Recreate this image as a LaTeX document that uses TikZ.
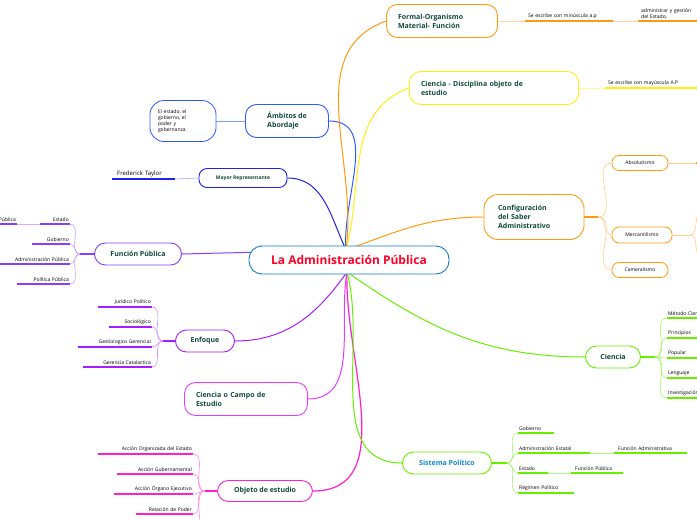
\documentclass[tikz,border=0pt]{standalone}
\usepackage{fontspec}
\setmainfont{Open Sans}
\usetikzlibrary{positioning}
\definecolor{txtgreen}{HTML}{0F4A3A}
\definecolor{cblue}{HTML}{2E5BFF}
\definecolor{cdblue}{HTML}{2222E6}
\definecolor{cpurple}{HTML}{8A3CFF}
\definecolor{cviolet}{HTML}{A51EFF}
\definecolor{cpink}{HTML}{E23CFF}
\definecolor{cmag}{HTML}{FF1ED2}
\definecolor{corange}{HTML}{FF9A10}
\definecolor{cyellow}{HTML}{FFEE10}
\definecolor{cgreen}{HTML}{66F000}
\tikzset{
  topic/.style={draw, rounded corners=11pt, fill=white, line width=0.9pt, text=txtgreen, font=\fontsize{7}{9}\selectfont\bfseries, align=left, inner xsep=9pt, inner ysep=4pt},
  small/.style={draw, rounded corners=7pt, fill=white, line width=0.8pt, font=\fontsize{5}{6}\selectfont, inner sep=3pt},
  leafL/.style={anchor=south east, align=right, inner xsep=1pt, inner ysep=2pt, font=\fontsize{5}{6}\selectfont},
  leafR/.style={anchor=south west, align=left, inner xsep=1pt, inner ysep=2pt, font=\fontsize{5}{6}\selectfont},
  uline/.style={line width=1.3pt},
  twig/.style={line width=0.6pt}
}
\begin{document}
\begin{tikzpicture}[x=1pt, y=-1pt]
\useasboundingbox (0,0) rectangle (697,520);
\coordinate (hub) at (346,250);
\coordinate (hubs) at (347,272);

% left side
\node (amb) [topic, draw=cblue, minimum width=83pt, minimum height=33pt] at (287,121) {Ámbitos de\\Abordaje};
\node (ambc) [small, draw=cblue, rounded corners=14pt, text width=50pt, minimum height=41pt, align=left, inner xsep=8pt] at (183,121) {El estado, el\\gobierno, el\\poder y\\gobernanza};
\draw[cblue!60, twig] (ambc) -- (amb);

\node (may) [topic, draw=cdblue, rounded corners=8pt, font=\fontsize{5}{6}\selectfont\bfseries, minimum width=88pt, minimum height=19pt, align=center] at (243,178) {Mayor Representante};
\node (ft) [leafR, text width=61pt, font=\fontsize{6}{7}\selectfont] at (112,179) {\hspace{4pt}Frederick Taylor};
\draw[cdblue, uline] (ft.south west) -- (ft.south east);
\draw[cdblue!40, twig] (ft.south east) -- (may.west);

\node (fun) [topic, draw=cpurple, minimum width=87pt, minimum height=22pt, align=center] at (138,254) {Función Pública};
\coordinate (funh) at (80,254);
\node (fun1) [leafL, text width=28pt] at (70,224) {Estado};
\node (fun1a) [leafL, text width=40pt] at (17,224) {Función Pública};
\node (fun2) [leafL, text width=36pt] at (70,244) {Gobierno};
\node (fun3) [leafL, text width=70pt] at (70,264) {Administración Pública};
\node (fun4) [leafL, text width=51pt] at (70,284) {Política Pública};
\foreach \n in {fun1,fun1a,fun2,fun3,fun4} \draw[cpurple, uline] (\n.south west) -- (\n.south east);
\draw[cpurple!40, twig] (fun1.south west) -- (fun1a.south east);
\draw[cpurple, uline] (fun.west) -- (funh);
\foreach \n in {fun1,fun2,fun3,fun4} \draw[cpurple!50, twig] (funh) to[out=180, in=0] (\n.south east);

\node (enf) [topic, draw=cviolet, minimum width=59pt, minimum height=22pt, align=center] at (205,341) {Enfoque};
\coordinate (enfh) at (163,341);
\node (enf1) [leafL, text width=52pt] at (152,307) {Jurídico Político};
\node (enf2) [leafL, text width=41pt] at (152,327) {Sociológico};
\node (enf3) [leafL, text width=72pt] at (152,347) {Gestiologico Gerencial};
\node (enf4) [leafL, text width=67pt] at (152,367) {Gerencia Catalactica};
\draw[cviolet, uline] (enf.west) -- (enfh);
\foreach \n in {enf1,enf2,enf3,enf4} {
  \draw[cviolet, uline] (\n.south west) -- (\n.south east);
  \draw[cviolet!50, twig] (enfh) to[out=180, in=0] (\n.south east);
}

\node (cam) [topic, draw=cpink, minimum width=123pt, minimum height=33pt, text width=100pt] at (246,399) {Ciencia o Campo de\\Estudio};

\node (obj) [topic, draw=cmag, minimum width=95pt, minimum height=21pt, align=center] at (265,491) {Objeto de estudio};
\coordinate (objh) at (205,491);
\node (obj1) [leafL, text width=93pt] at (193,454) {Acción Organizada del Estado};
\node (obj2) [leafL, text width=74pt] at (193,474) {Acción Gubernamental};
\node (obj3) [leafL, text width=77pt] at (193,494) {Acción Órgano Ejecutivo};
\node (obj4) [leafL, text width=55pt] at (193,514) {Relación de Poder};
\coordinate (obj5) at (193,530);
\draw[cmag, uline] (obj.west) -- (objh);
\foreach \n in {obj1,obj2,obj3,obj4} {
  \draw[cmag, uline] (\n.south west) -- (\n.south east);
  \draw[cmag!50, twig] (objh) to[out=180, in=0] (\n.south east);
}
\draw[cmag!50, twig] (objh) to[out=180, in=0] (obj5);

% right side
\node (for) [topic, draw=corange, minimum width=111pt, minimum height=33pt, text width=88pt] at (442,21) {Formal-Organismo\\Material- Función};
\node (for1) [leafR, text width=86pt] at (525,21) {\hspace{2pt}Se escribe con minúscula a.p};
\node (for2) [leafR, text width=70pt] at (638,21) {\hspace{2pt}administrar y gestión\\\hspace{2pt}del Estado.};
\draw[corange, uline] (for1.south west) -- (for1.south east);
\draw[corange, uline] (for2.south west) -- (for2.south east);
\draw[corange!40, twig] (for.east) -- (for1.south west);
\draw[corange!40, twig] (for1.south east) -- (for2.south west);

\node (dis) [topic, draw=cyellow, minimum width=169pt, minimum height=33pt, text width=146pt] at (494,88) {Ciencia - Disciplina objeto de\\estudio};
\node (dis1) [leafR, text width=92pt] at (605,88) {\hspace{2pt}Se escribe con mayúscula A.P};
\draw[cyellow, uline] (dis1.south west) -- (dis1.south east);
\draw[cyellow!40, twig] (dis.east) -- (dis1.south west);

\node (con) [topic, draw=corange, rounded corners=14pt, minimum width=100pt, minimum height=45pt, text width=72pt] at (534,217) {Configuración\\del Saber\\Administrativo};
\coordinate (conh) at (598,217);
\node (con1) [small, draw=corange, minimum width=56pt, minimum height=15pt] at (640,163) {Absolutismo};
\node (con2) [small, draw=corange, minimum width=60pt, minimum height=16pt] at (642,235) {Mercantilismo};
\node (con3) [small, draw=corange, minimum width=56pt, minimum height=15pt] at (640,270) {Cameralismo};
\coordinate (con1e) at (697,163);
\coordinate (con2h) at (690,235);
\draw[corange, uline] (con.east) -- (conh);
\foreach \n in {con1,con2,con3} \draw[corange!50, twig] (conh) to[out=0, in=180] (\n.west);
\draw[corange!50, twig] (con1.east) -- (con1e);
\draw[corange, uline] ([xshift=28pt]con1.east) -- (con1e);
\draw[corange!50, twig] (con2.east) -- (con2h);
\draw[corange!50, twig] (con2h) to[out=0, in=180] ++(12,-22);
\draw[corange!50, twig] (con2h) to[out=0, in=180] ++(12,22);

\node (cie) [topic, draw=cgreen, minimum width=55pt, minimum height=22pt, align=center] at (613,357) {Ciencia};
\coordinate (cieh) at (655,357);
\node (cie1) [leafR, text width=60pt] at (667,318) {Método Científico};
\node (cie2) [leafR, text width=60pt] at (667,338) {Principios};
\node (cie3) [leafR, text width=60pt] at (667,358) {Popular};
\node (cie4) [leafR, text width=60pt] at (667,378) {Lenguaje};
\node (cie5) [leafR, text width=60pt] at (667,398) {Investigación};
\draw[cgreen, uline] (cie.east) -- (cieh);
\foreach \n in {cie1,cie2,cie3,cie4,cie5} {
  \draw[cgreen, uline] (\n.south west) -- (\n.south east);
  \draw[cgreen!60, twig] (cieh) to[out=0, in=180] (\n.south west);
}

\node (sis) [topic, draw=cgreen, text=cyan!70!blue, minimum width=89pt, minimum height=22pt, align=center] at (447,463) {Sistema Político};
\coordinate (sish) at (507,463);
\node (sis1) [leafR, text width=34pt] at (518,433) {Gobierno};
\node (sis2) [leafR, text width=70pt] at (518,453) {Administración Estatal};
\node (sis2a) [leafR, text width=71pt] at (614,453) {\hspace{3pt}Función Administrativa};
\node (sis3) [leafR, text width=28pt] at (518,473) {Estado};
\node (sis3a) [leafR, text width=50pt] at (571,473) {\hspace{3pt}Función Pública};
\node (sis4) [leafR, text width=54pt] at (518,493) {Régimen Político};
\draw[cgreen, uline] (sis.east) -- (sish);
\foreach \n in {sis1,sis2,sis3,sis4} \draw[cgreen!60, twig] (sish) to[out=0, in=180] (\n.south west);
\foreach \n in {sis1,sis2,sis2a,sis3,sis3a,sis4} \draw[cgreen, uline] (\n.south west) -- (\n.south east);
\draw[cgreen!50, twig] (sis2.south east) -- (sis2a.south west);
\draw[cgreen!50, twig] (sis3.south east) -- (sis3a.south west);

% main branches
\draw[cblue, line width=1pt] (amb.east) to[out=0, in=95] (hub);
\draw[cdblue, line width=1pt] (may.east) to[out=0, in=115] (hub);
\draw[cpurple, line width=1pt] (fun.east) -- (hub);
\draw[cviolet, line width=1pt] (enf.east) to[out=0, in=235] (hubs);
\draw[cpink, line width=1pt] (cam.east) to[out=0, in=260] (hubs);
\draw[cmag, line width=1.2pt] (obj.east) to[out=0, in=268] (hubs);
\draw[corange, line width=1pt] (hub) to[out=82, in=200] (for.west);
\draw[cyellow, line width=1pt] (hub) to[out=75, in=200] (dis.west);
\draw[corange, line width=1pt] (hub) to[out=20, in=180] (con.west);
\draw[cgreen, line width=1pt] (hubs) to[out=-35, in=180] (cie.west);
\draw[cgreen, line width=1pt] (hubs) to[out=-75, in=180] (sis.west);

\node (adm) [draw=cyan!60!blue, line width=0.9pt, rounded corners=13pt, fill=white, minimum width=200pt, minimum height=28pt, text=red!85!magenta, font=\fontsize{12}{14}\selectfont\bfseries] at (349,260) {La Administración Pública};
\end{tikzpicture}
\end{document}
